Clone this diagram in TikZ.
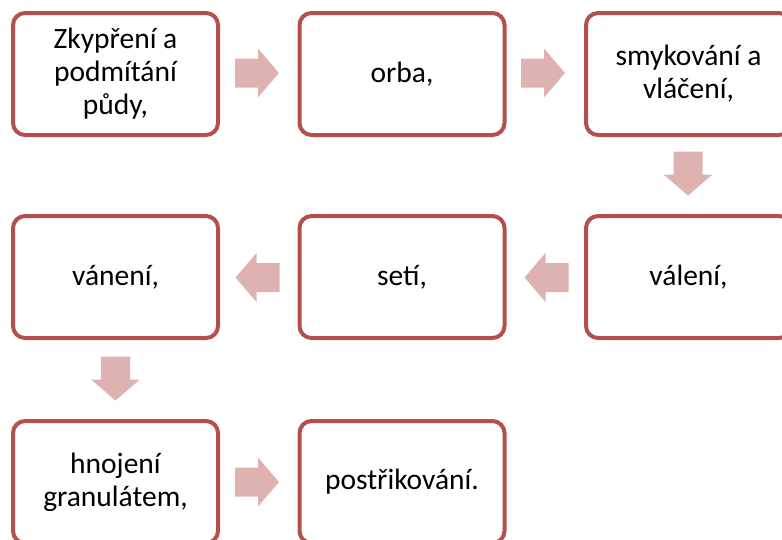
\documentclass[tikz,border=0pt]{standalone}
\usepackage{fontspec}
\setmainfont{Carlito}
\definecolor{boxline}{RGB}{180,80,76}
\definecolor{arrowfill}{RGB}{223,178,178}
\begin{document}
\begin{tikzpicture}[x=1pt,y=1pt,
  stepbox/.style={draw=boxline, line width=4pt, fill=white, rounded corners=12pt,
    minimum width=205pt, minimum height=122pt, align=center,
    font=\fontsize{29.5}{33}\selectfont, text=black, inner sep=0pt},
  blockarrow/.pic={\fill[arrowfill] (-22,-14.5) -- (1,-14.5) -- (1,-24.5) -- (22,0) -- (1,24.5) -- (1,14.5) -- (-22,14.5) -- cycle;}
]
\useasboundingbox (0,0) rectangle (782,-539);
\node[stepbox] (b1) at (115.5,-74) {Zkypření a\\podmítání\\půdy,};
\node[stepbox] (b2) at (402,-74) {orba,};
\node[stepbox] (b3) at (688.5,-74) {smykování a\\vláčení,};
\node[stepbox] (b4) at (688.5,-277) {válení,};
\node[stepbox] (b5) at (402,-277) {setí,};
\node[stepbox] (b6) at (115.5,-277) {vánení,};
\node[stepbox] (b7) at (115.5,-482) {hnojení\\granulátem,};
\node[stepbox] (b8) at (402,-482) {postřikování.};
\pic at (257,-73) {blockarrow};
\pic at (543,-73) {blockarrow};
\pic[rotate=-90] at (688,-173.5) {blockarrow};
\pic[rotate=180] at (546.5,-277.5) {blockarrow};
\pic[rotate=180] at (257.5,-277.5) {blockarrow};
\pic[rotate=-90] at (115.5,-378.5) {blockarrow};
\pic at (257,-482) {blockarrow};
\end{tikzpicture}
\end{document}
